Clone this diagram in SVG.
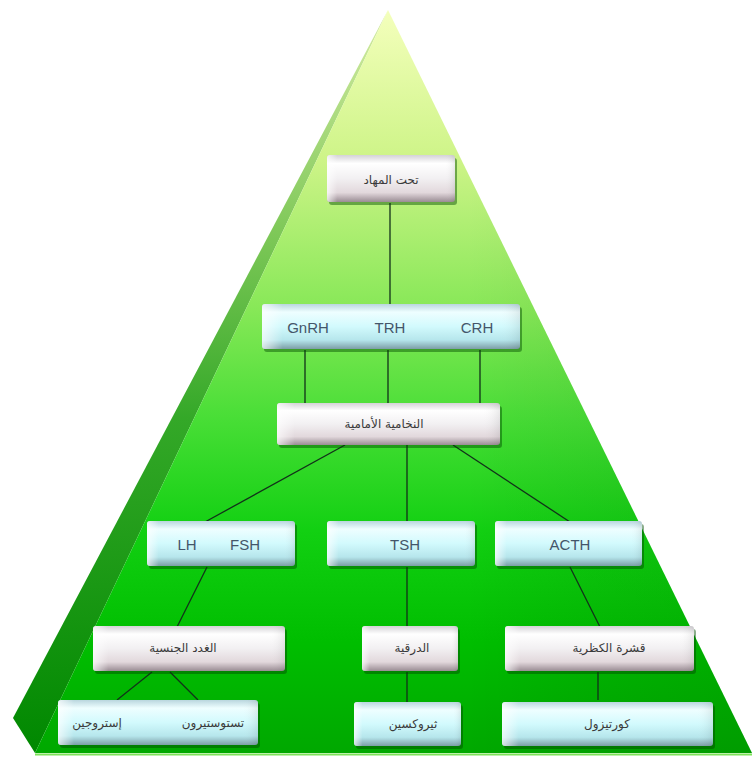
<svg xmlns="http://www.w3.org/2000/svg" width="752" height="758" viewBox="0 0 752 758">
<defs>
<linearGradient id="front" x1="0" y1="10" x2="0" y2="753" gradientUnits="userSpaceOnUse">
<stop offset="0" stop-color="#f4ffbc"/>
<stop offset="0.2" stop-color="#cef488"/>
<stop offset="0.4" stop-color="#88e858"/>
<stop offset="0.55" stop-color="#48de36"/>
<stop offset="0.7" stop-color="#12d012"/>
<stop offset="0.85" stop-color="#00be00"/>
<stop offset="1" stop-color="#00a800"/>
</linearGradient>
<linearGradient id="side" x1="0" y1="10" x2="0" y2="753" gradientUnits="userSpaceOnUse">
<stop offset="0" stop-color="#d6eca4"/>
<stop offset="0.3" stop-color="#7ec858"/>
<stop offset="0.55" stop-color="#34a828"/>
<stop offset="1" stop-color="#008800"/>
</linearGradient>
<linearGradient id="shade" x1="0" y1="0" x2="1" y2="0">
<stop offset="0" stop-color="#000" stop-opacity="0"/>
<stop offset="0.6" stop-color="#000" stop-opacity="0"/>
<stop offset="1" stop-color="#004400" stop-opacity="0.12"/>
</linearGradient>
<linearGradient id="cyan" x1="0" y1="0" x2="0" y2="1">
<stop offset="0" stop-color="#b9d6de"/>
<stop offset="0.18" stop-color="#eefeff"/>
<stop offset="0.5" stop-color="#d2fafd"/>
<stop offset="0.8" stop-color="#b6e6ec"/>
<stop offset="1" stop-color="#7c9ea6"/>
</linearGradient>
<linearGradient id="gray" x1="0" y1="0" x2="0" y2="1">
<stop offset="0" stop-color="#d4d2d6"/>
<stop offset="0.18" stop-color="#ffffff"/>
<stop offset="0.5" stop-color="#f2f0f2"/>
<stop offset="0.8" stop-color="#e2d8dc"/>
<stop offset="1" stop-color="#9a8c94"/>
</linearGradient>
<linearGradient id="gloss" x1="0" y1="0" x2="1" y2="0">
<stop offset="0" stop-color="#fff" stop-opacity="0.7"/>
<stop offset="0.08" stop-color="#fff" stop-opacity="0"/>
<stop offset="0.92" stop-color="#fff" stop-opacity="0"/>
<stop offset="1" stop-color="#000" stop-opacity="0.08"/>
</linearGradient>
</defs>
<style>
.c{fill:url(#cyan)}
.g{fill:url(#gray)}
.gl{fill:url(#gloss)}
.sh{fill:#004a00;opacity:0.45}
.lat{font-family:"Liberation Sans",Arial,sans-serif;font-size:15px;fill:#44566a;text-anchor:middle}
.ar{font-family:"DejaVu Sans","Noto Sans",sans-serif;font-size:12px;fill:#3a3a3a;text-anchor:middle}
.ln{stroke:#12301a;stroke-width:1.3;fill:none}
</style>
<rect width="752" height="758" fill="#ffffff"/>
<g id="pyramid">
<polygon points="388,10 13,718 35,753" fill="url(#side)"/>
<polygon points="388,10 35,753 752,753" fill="url(#front)"/>
<polygon points="388,10 35,753 752,753" fill="url(#shade)"/>
<line x1="35" y1="754.5" x2="752" y2="754.5" stroke="#7ee25a" stroke-width="2"/>
</g>
<g id="connectors">
<line class="ln" x1="390" y1="203" x2="390" y2="305"/>
<line class="ln" x1="305" y1="350" x2="305" y2="404"/>
<line class="ln" x1="388" y1="350" x2="388" y2="404"/>
<line class="ln" x1="480" y1="350" x2="480" y2="404"/>
<line class="ln" x1="345" y1="445" x2="205" y2="522"/>
<line class="ln" x1="407" y1="445" x2="407" y2="522"/>
<line class="ln" x1="453" y1="445" x2="570" y2="522"/>
<line class="ln" x1="207" y1="567" x2="177" y2="627"/>
<line class="ln" x1="407" y1="567" x2="407" y2="627"/>
<line class="ln" x1="570" y1="567" x2="600" y2="627"/>
<line class="ln" x1="152" y1="672" x2="117" y2="700"/>
<line class="ln" x1="170" y1="672" x2="198" y2="700"/>
<line class="ln" x1="407" y1="672" x2="407" y2="705"/>
<line class="ln" x1="598" y1="672" x2="598" y2="700"/>
</g>
<g id="hypothalamus">
<rect class="sh" x="329" y="158" width="128" height="47" rx="3"/>
<rect class="g" x="327" y="155" width="128" height="47" rx="3"/>
<rect class="gl" x="327" y="155" width="128" height="47" rx="3"/>
<text class="ar" x="391" y="184">تحت المهاد</text>
</g>
<g id="releasing">
<rect class="sh" x="264" y="307" width="258" height="45" rx="3"/>
<rect class="c" x="262" y="304" width="258" height="45" rx="3"/>
<rect class="gl" x="262" y="304" width="258" height="45" rx="3"/>
<text class="lat" x="308" y="333">GnRH</text>
<text class="lat" x="390" y="333">TRH</text>
<text class="lat" x="477" y="333">CRH</text>
</g>
<g id="pituitary">
<rect class="sh" x="279" y="406" width="223" height="42" rx="3"/>
<rect class="g" x="277" y="403" width="223" height="42" rx="3"/>
<rect class="gl" x="277" y="403" width="223" height="42" rx="3"/>
<text class="ar" x="384" y="428">النخامية الأمامية</text>
</g>
<g id="lhfsh">
<rect class="sh" x="149" y="524" width="148" height="45" rx="3"/>
<rect class="c" x="147" y="521" width="148" height="45" rx="3"/>
<rect class="gl" x="147" y="521" width="148" height="45" rx="3"/>
<text class="lat" x="187" y="550">LH</text>
<text class="lat" x="245" y="550">FSH</text>
</g>
<g id="tsh">
<rect class="sh" x="329" y="524" width="148" height="45" rx="3"/>
<rect class="c" x="327" y="521" width="148" height="45" rx="3"/>
<rect class="gl" x="327" y="521" width="148" height="45" rx="3"/>
<text class="lat" x="405" y="550">TSH</text>
</g>
<g id="acth">
<rect class="sh" x="497" y="524" width="147" height="45" rx="3"/>
<rect class="c" x="495" y="521" width="147" height="45" rx="3"/>
<rect class="gl" x="495" y="521" width="147" height="45" rx="3"/>
<text class="lat" x="570" y="550">ACTH</text>
</g>
<g id="gonads">
<rect class="sh" x="95" y="629" width="192" height="45" rx="3"/>
<rect class="g" x="93" y="626" width="192" height="45" rx="3"/>
<rect class="gl" x="93" y="626" width="192" height="45" rx="3"/>
<text class="ar" x="183" y="652">الغدد الجنسية</text>
</g>
<g id="thyroid">
<rect class="sh" x="364" y="629" width="96" height="45" rx="3"/>
<rect class="g" x="362" y="626" width="96" height="45" rx="3"/>
<rect class="gl" x="362" y="626" width="96" height="45" rx="3"/>
<text class="ar" x="412" y="652">الدرقية</text>
</g>
<g id="adrenal">
<rect class="sh" x="507" y="629" width="189" height="45" rx="3"/>
<rect class="g" x="505" y="626" width="189" height="45" rx="3"/>
<rect class="gl" x="505" y="626" width="189" height="45" rx="3"/>
<text class="ar" x="609" y="652">قشرة الكظرية</text>
</g>
<g id="sexhormones">
<rect class="sh" x="60" y="703" width="200" height="45" rx="3"/>
<rect class="c" x="58" y="700" width="200" height="45" rx="3"/>
<rect class="gl" x="58" y="700" width="200" height="45" rx="3"/>
<text class="ar" x="97" y="727">إستروجين</text>
<text class="ar" x="213" y="727">تستوستيرون</text>
</g>
<g id="thyroxine">
<rect class="sh" x="356" y="705" width="107" height="44" rx="3"/>
<rect class="c" x="354" y="702" width="107" height="44" rx="3"/>
<rect class="gl" x="354" y="702" width="107" height="44" rx="3"/>
<text class="ar" x="413" y="728">ثيروكسين</text>
</g>
<g id="cortisol">
<rect class="sh" x="504" y="705" width="211" height="44" rx="3"/>
<rect class="c" x="502" y="702" width="211" height="44" rx="3"/>
<rect class="gl" x="502" y="702" width="211" height="44" rx="3"/>
<text class="ar" x="607" y="728">كورتيزول</text>
</g>
</svg>
